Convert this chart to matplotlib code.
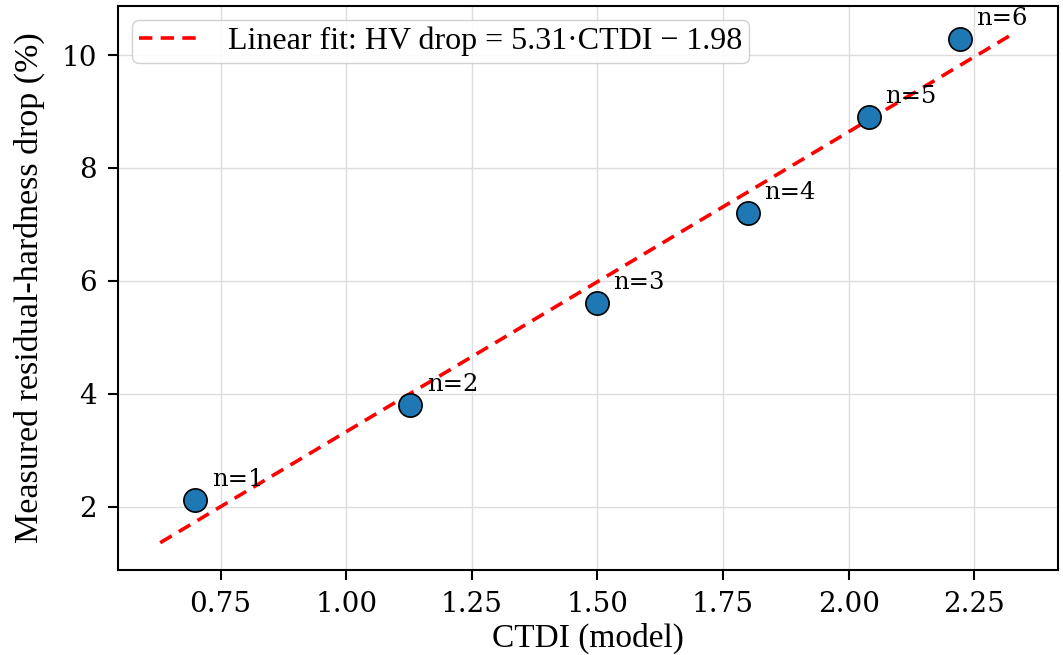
import numpy as np
import matplotlib.pyplot as plt

# CTDI (model) vs measured hardness drop
ctdi = [0.700, 1.127, 1.499, 1.799, 2.040, 2.221]
hv_drop = [2.12, 3.81, 5.61, 7.20, 8.91, 10.29]
labels = ['n=1', 'n=2', 'n=3', 'n=4', 'n=5', 'n=6']
slope, intercept = 5.31, -1.98

label_font = ['Liberation Serif', 'DejaVu Serif']
tick_font = 'DejaVu Serif'

fig, ax = plt.subplots(figsize=(10.63, 6.55), dpi=100)
fig.subplots_adjust(left=0.111, right=0.995, top=0.991, bottom=0.13)

xfit = np.linspace(min(ctdi) * 0.9, max(ctdi) * 1.05, 100)
ax.plot(xfit, slope * xfit + intercept, '--', color='red', lw=2.6,
        dashes=(3.7, 2.3),
        label=f'Linear fit: HV drop = {slope:.2f}\u00b7CTDI \u2212 {abs(intercept):.2f}',
        zorder=2)
ax.scatter(ctdi, hv_drop, s=280, color='#1f77b4', edgecolor='black',
           linewidth=1.2, zorder=3)

for x, y, t in zip(ctdi, hv_drop, labels):
    ax.annotate(t, (x, y), xytext=(12, 10), textcoords='offset points',
                fontsize=17.5, family=tick_font)

ax.set_xlim(0.546, 2.416)
ax.set_ylim(0.885, 10.87)
ax.set_xticks([0.75, 1.0, 1.25, 1.5, 1.75, 2.0, 2.25])
ax.set_yticks([2, 4, 6, 8, 10])
ax.grid(True, color='#dddddd', lw=1)
ax.set_axisbelow(True)
for s in ax.spines.values():
    s.set_linewidth(1.5)
ax.tick_params(labelsize=20, width=1.5, length=7, pad=8)
for lab in ax.get_xticklabels() + ax.get_yticklabels():
    lab.set_family(tick_font)

ax.set_xlabel('CTDI (model)', fontsize=24, family=label_font, labelpad=4)
ax.set_ylabel('Measured residual-hardness drop (%)', fontsize=24.5,
              family=label_font, labelpad=12)
ax.legend(loc='upper left', prop={'family': label_font, 'size': 23},
          handlelength=2.0, borderpad=0.2, borderaxespad=0.45, framealpha=0.9)

fig.savefig('out.png', dpi=100)
